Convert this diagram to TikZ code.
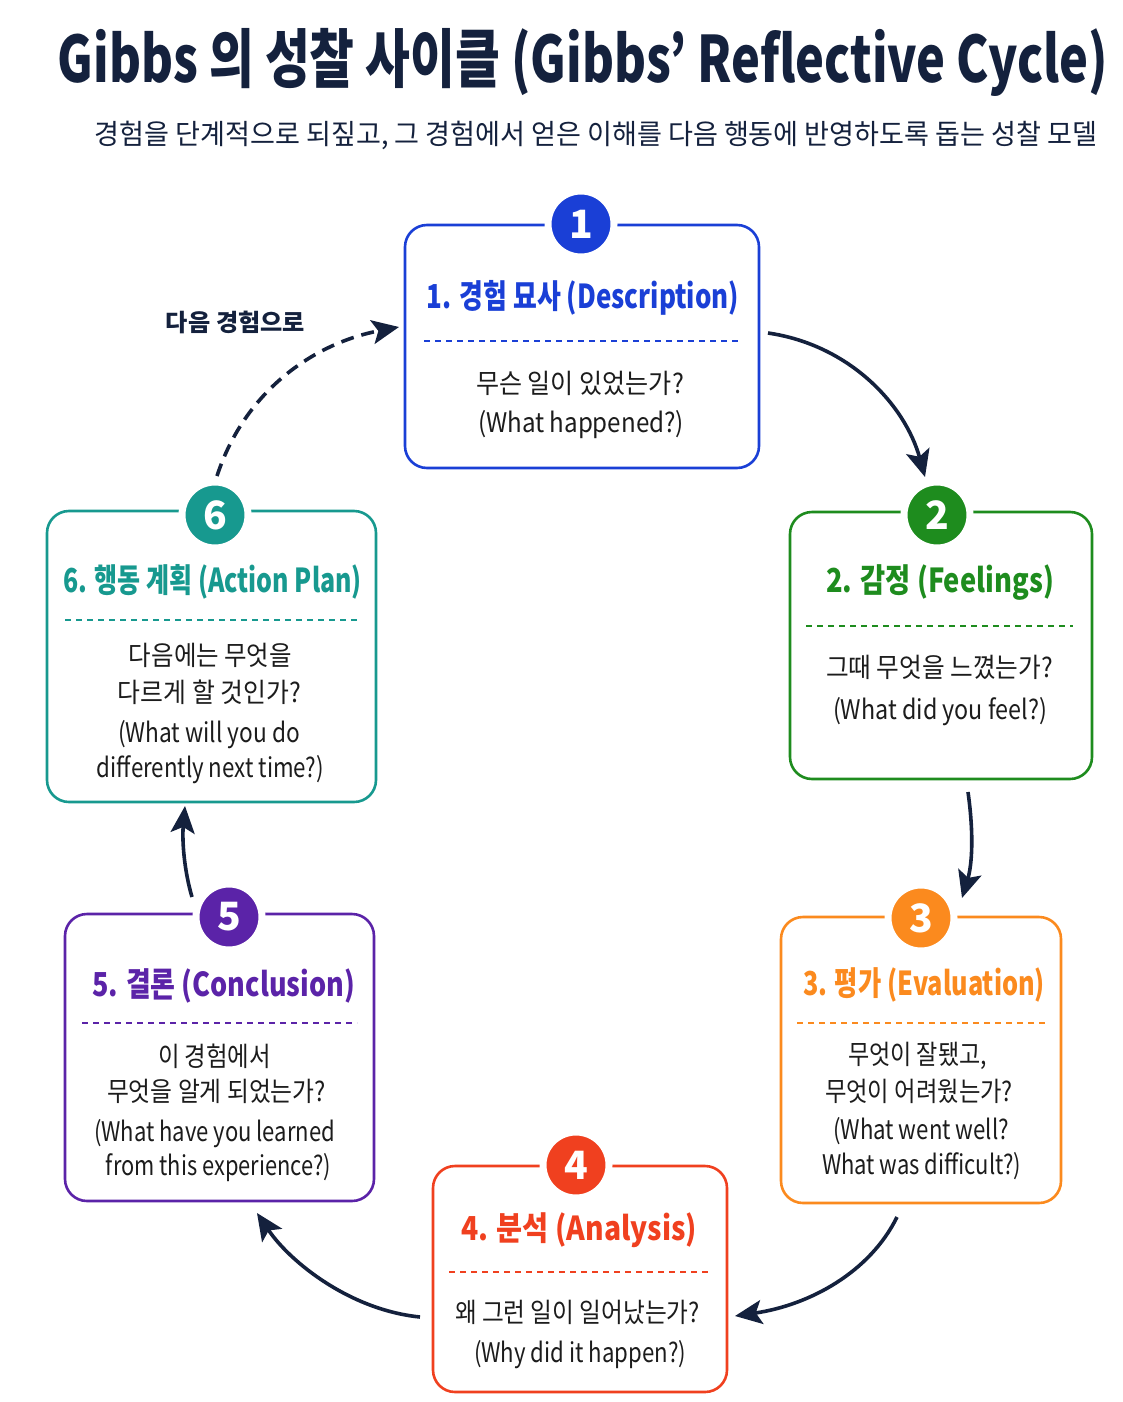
\documentclass[tikz,border=0pt]{standalone}
\usepackage{fontspec}
\setmainfont{Noto Sans CJK KR}
\usepackage{graphicx}
\usetikzlibrary{arrows.meta}
\definecolor{navy}{HTML}{14213D}
\definecolor{txt}{HTML}{1C1C1C}
\definecolor{cA}{HTML}{1A3FD6}
\definecolor{cB}{HTML}{1E8C1E}
\definecolor{cC}{HTML}{FB8A1E}
\definecolor{cD}{HTML}{F0401F}
\definecolor{cE}{HTML}{5B23A8}
\definecolor{cF}{HTML}{17998F}
\newcommand{\fw}[2]{\resizebox{#1pt}{\height}{#2}}
\tikzset{
  stagebox/.style={draw, line width=2.6pt, rounded corners=22pt, fill=white, inner sep=0pt},
  badge/.style={circle, draw=white, line width=7pt, minimum size=66pt, inner sep=0pt, text=white, font=\fontsize{39}{41}\selectfont\bfseries},
  head/.style={inner sep=0pt, font=\fontsize{33}{37}\selectfont\bfseries},
  body/.style={inner sep=0pt, text=txt, font=\fontsize{27}{31}\selectfont},
  sep/.style={line width=1.6pt, dash pattern=on 6pt off 5pt},
  flow/.style={navy, line width=3.6pt, -{Stealth[length=27pt,width=24pt,inset=6pt]}},
}
\begin{document}
\begin{tikzpicture}[x=1pt,y=-1pt]
\useasboundingbox[fill=white] (0,0) rectangle (1122,1402);

% title
\node[inner sep=0pt, text=navy, font=\fontsize{64}{68}\selectfont\bfseries] (title) at (583,62) {\fw{1050}{Gibbs 의 성찰 사이클 (Gibbs’ Reflective Cycle)}};
\node[inner sep=0pt, text=navy, font=\fontsize{28}{32}\selectfont] (sub) at (596,135) {\fw{1002}{경험을 단계적으로 되짚고, 그 경험에서 얻은 이해를 다음 행동에 반영하도록 돕는 성찰 모델}};

% boxes
\node[stagebox, draw=cA, minimum width=354pt, minimum height=243pt] (b1) at (582,346.5) {};
\node[stagebox, draw=cB, minimum width=302pt, minimum height=267pt] (b2) at (941,645.5) {};
\node[stagebox, draw=cC, minimum width=280pt, minimum height=286pt] (b3) at (921,1060) {};
\node[stagebox, draw=cD, minimum width=294pt, minimum height=226pt] (b4) at (580,1279) {};
\node[stagebox, draw=cE, minimum width=309pt, minimum height=287pt] (b5) at (219.5,1057.5) {};
\node[stagebox, draw=cF, minimum width=329pt, minimum height=291pt] (b6) at (211.5,656.5) {};

% badges
\node[badge, fill=cA] (n1) at (581,224) {1};
\node[badge, fill=cB] (n2) at (937,515) {2};
\node[badge, fill=cC] (n3) at (921,918) {3};
\node[badge, fill=cD] (n4) at (576,1165) {4};
\node[badge, fill=cE] (n5) at (229,917) {5};
\node[badge, fill=cF] (n6) at (215,515) {6};

% box 1
\node[head, text=cA] (h1) at (583,298) {\fw{312}{1. 경험 묘사 (Description)}};
\draw[sep, cA] (424,341) -- (740,341);
\node[body] (t1a) at (580,383) {\fw{208}{무슨 일이 있었는가?}};
\node[body] (t1b) at (581,425) {\fw{206}{(What happened?)}};

% box 2
\node[head, text=cB] (h2) at (940,583) {\fw{228}{2. 감정 (Feelings)}};
\draw[sep, cB] (806,626) -- (1073,626);
\node[body] (t2a) at (939.5,667) {\fw{227}{그때 무엇을 느꼈는가?}};
\node[body] (t2b) at (940,712) {\fw{214}{(What did you feel?)}};

% box 3
\node[head, text=cC] (h3) at (924,985) {\fw{242}{3. 평가 (Evaluation)}};
\draw[sep, cC] (797,1023) -- (1045,1023);
\node[body] (t3a) at (917.5,1056) {\fw{139}{무엇이 잘됐고,}};
\node[body] (t3b) at (919,1091) {\fw{188}{무엇이 어려웠는가?}};
\node[body] (t3c) at (921,1131) {\fw{176}{(What went well?}};
\node[body] (t3d) at (921.5,1166) {\fw{199}{What was difficult?)}};

% box 4
\node[head, text=cD] (h4) at (579,1230) {\fw{236}{4. 분석 (Analysis)}};
\draw[sep, cD] (449,1272) -- (711,1272);
\node[body] (t4a) at (577.5,1312) {\fw{245}{왜 그런 일이 일어났는가?}};
\node[body] (t4b) at (580,1355) {\fw{212}{(Why did it happen?)}};

% box 5
\node[head, text=cE] (h5) at (223.5,986) {\fw{263}{5. 결론 (Conclusion)}};
\draw[sep, cE] (82,1023) -- (357,1023);
\node[body] (t5a) at (214.5,1056) {\fw{113}{이 경험에서}};
\node[body] (t5b) at (216.5,1091) {\fw{219}{무엇을 알게 되었는가?}};
\node[body] (t5c) at (214.5,1134) {\fw{241}{(What have you learned}};
\node[body] (t5d) at (218.5,1168) {\fw{225}{from this experience?)}};

% box 6
\node[head, text=cF] (h6) at (212.5,582) {\fw{299}{6. 행동 계획 (Action Plan)}};
\draw[sep, cF] (65,620) -- (357,620);
\node[body] (t6a) at (210.5,655) {\fw{163}{다음에는 무엇을}};
\node[body] (t6b) at (209.5,692) {\fw{183}{다르게 할 것인가?}};
\node[body] (t6c) at (209,735) {\fw{182}{(What will you do}};
\node[body] (t6d) at (210.5,770) {\fw{227}{differently next time?)}};

% label for loop
\node[inner sep=0pt, text=navy, font=\fontsize{24}{28}\selectfont\bfseries] (lbl) at (235.5,322) {\fw{139}{다음 경험으로}};

% connector end points
\coordinate (s12) at (768,333);  \coordinate (e12) at (925,477);
\coordinate (s23) at (968,792);  \coordinate (e23) at (962,898);
\coordinate (s34) at (897,1217); \coordinate (e34) at (735,1316);
\coordinate (s45) at (420,1317); \coordinate (e45) at (257,1213);
\coordinate (s56) at (192,897);  \coordinate (e56) at (185,806);
\coordinate (s61) at (217,476);  \coordinate (e61) at (399,327);

\draw[flow] (s12) .. controls (850,345) and (905,405) .. (e12);
\draw[flow] (s23) .. controls (974,835) and (972,865) .. (e23);
\draw[flow] (s34) .. controls (870,1272) and (810,1305) .. (e34);
\draw[flow] (s45) .. controls (350,1310) and (290,1262) .. (e45);
\draw[flow] (s56) .. controls (184,870) and (182,840) .. (e56);
\draw[flow, dash pattern=on 13pt off 8pt] (s61) .. controls (245,390) and (315,343) .. (e61);
\end{tikzpicture}
\end{document}
